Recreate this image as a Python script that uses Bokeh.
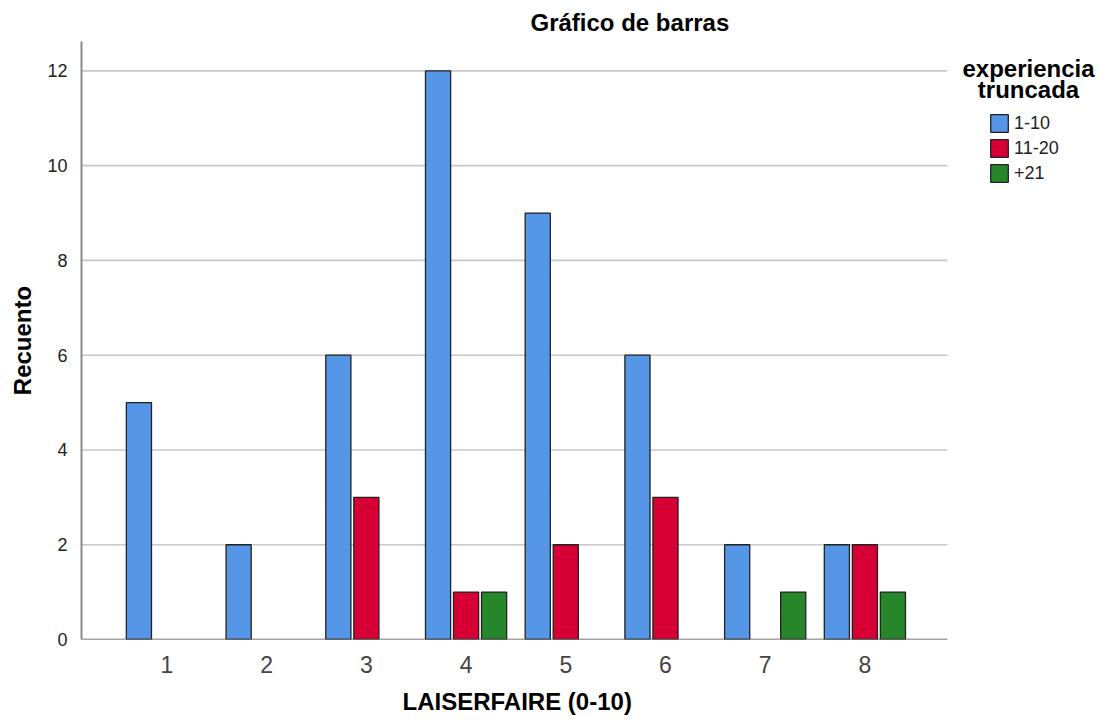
from bokeh.plotting import figure
from bokeh.models import (ColumnDataSource, FixedTicker, Legend, LegendItem, Range1d, Label, Title)
from bokeh.embed import file_html
from bokeh.resources import INLINE

# ---- data ----
categories = [1, 2, 3, 4, 5, 6, 7, 8]
tick_labels = ["1", "2", "3", "4", "5", "6", "7", "8"]
series_names = ["1-10", "11-20", "+21"]
counts_1_10 = [5, 2, 6, 12, 9, 6, 2, 2]
counts_11_20 = [0, 0, 3, 1, 2, 3, 0, 2]
counts_21 = [0, 0, 0, 1, 0, 0, 1, 1]
colors = ["#5596e6", "#d70035", "#27862a"]
title_text = "Gráfico de barras"
x_title = "LAISERFAIRE (0-10)"
y_title = "Recuento"
legend_title = ["experiencia", "truncada"]
y_ticks = [0, 2, 4, 6, 8, 10, 12]

FONT = "Liberation Sans"

# axis extent (data units); the frame runs further right to host the legend
x_lo, x_hi = 0.143, 8.827
x_frame_end = 10.353
y_top = 12.62

p = figure(width=1099, height=724, output_backend="svg", toolbar_location=None,
           x_range=Range1d(x_lo, x_frame_end), y_range=Range1d(0, y_top),
           min_border_left=81, min_border_right=0, min_border_top=40,
           min_border_bottom=85)
p.outline_line_color = None
p.background_fill_color = "white"
p.border_fill_color = "white"

# horizontal grid lines, limited to the axis extent
grid_ticks = y_ticks[1:]
p.segment(x0=[x_lo] * len(grid_ticks), x1=[x_hi] * len(grid_ticks), y0=grid_ticks, y1=grid_ticks,
          line_color="#c8c8c8", line_width=1.6, level="underlay")

offsets = [-0.281, 0.0, 0.281]
bar_w = 0.252
renderers = []
for vals, off, col, name in zip([counts_1_10, counts_11_20, counts_21], offsets, colors, series_names):
    xs = [c + off for c, v in zip(categories, vals) if v > 0]
    ys = [v for v in vals if v > 0]
    src = ColumnDataSource(dict(x=xs, top=ys))
    r = p.vbar(x="x", top="top", width=bar_w, bottom=0, source=src,
               fill_color=col, line_color="#222222", line_width=1.3)
    renderers.append((name, r))

# bottom axis line limited to the axis extent
p.segment(x0=[x_lo], x1=[x_hi], y0=[0], y1=[0], line_color="#4a4a4a", line_width=1.6)

# title
p.title.text = title_text
p.title.align = "left"
p.title.offset = 449
p.title.standoff = 12
p.title.text_font = FONT
p.title.text_font_style = "bold"
p.title.text_font_size = "24px"
p.title.text_color = "#000000"

# grid
p.xgrid.grid_line_color = None
p.ygrid.grid_line_color = None

# x axis
p.xaxis.ticker = FixedTicker(ticks=categories)
p.xaxis.major_label_overrides = {c: t for c, t in zip(categories, tick_labels)}
p.xaxis.major_tick_line_color = None
p.xaxis.minor_tick_line_color = None
p.xaxis.axis_line_color = None
p.xaxis.major_label_text_font = FONT
p.xaxis.major_label_text_font_size = "23px"
p.xaxis.major_label_text_color = "#444444"
p.xaxis.major_label_standoff = 10

# x axis title, centred under the axis extent
p.add_layout(Title(text=x_title, align="left", offset=321, standoff=20,
                   text_font=FONT, text_font_style="bold", text_font_size="24px",
                   text_color="#000000"), "below")

# y axis
p.yaxis.ticker = FixedTicker(ticks=y_ticks)
p.yaxis.major_tick_line_color = None
p.yaxis.minor_tick_line_color = None
p.yaxis.axis_line_color = "#8a8a8a"
p.yaxis.axis_line_width = 2
p.yaxis.major_label_text_font = FONT
p.yaxis.major_label_text_font_size = "18px"
p.yaxis.major_label_text_color = "#222222"
p.yaxis.major_label_standoff = 8
p.yaxis.axis_label = y_title
p.yaxis.axis_label_text_font = FONT
p.yaxis.axis_label_text_font_style = "bold"
p.yaxis.axis_label_text_font_size = "24px"
p.yaxis.axis_label_text_color = "#000000"
p.yaxis.axis_label_standoff = 8

# legend title (two centred lines)
for i, t in enumerate(legend_title):
    p.add_layout(Label(x=947, y=571 - 21 * i, x_units="screen", y_units="screen", text=t,
                       text_font=FONT, text_font_style="bold", text_font_size="24px",
                       text_align="center", text_baseline="alphabetic", text_color="#000000"))

legend = Legend(items=[LegendItem(label=n, renderers=[r]) for n, r in renderers],
                location=(907, 455), orientation="vertical",
                glyph_width=22, glyph_height=22, label_height=18, spacing=3,
                label_standoff=4, padding=0, margin=0,
                label_text_font=FONT, label_text_font_size="18px", label_text_color="#222222",
                border_line_color=None, background_fill_alpha=0)
p.add_layout(legend)

open("out.html", "w").write(file_html(p, INLINE))
